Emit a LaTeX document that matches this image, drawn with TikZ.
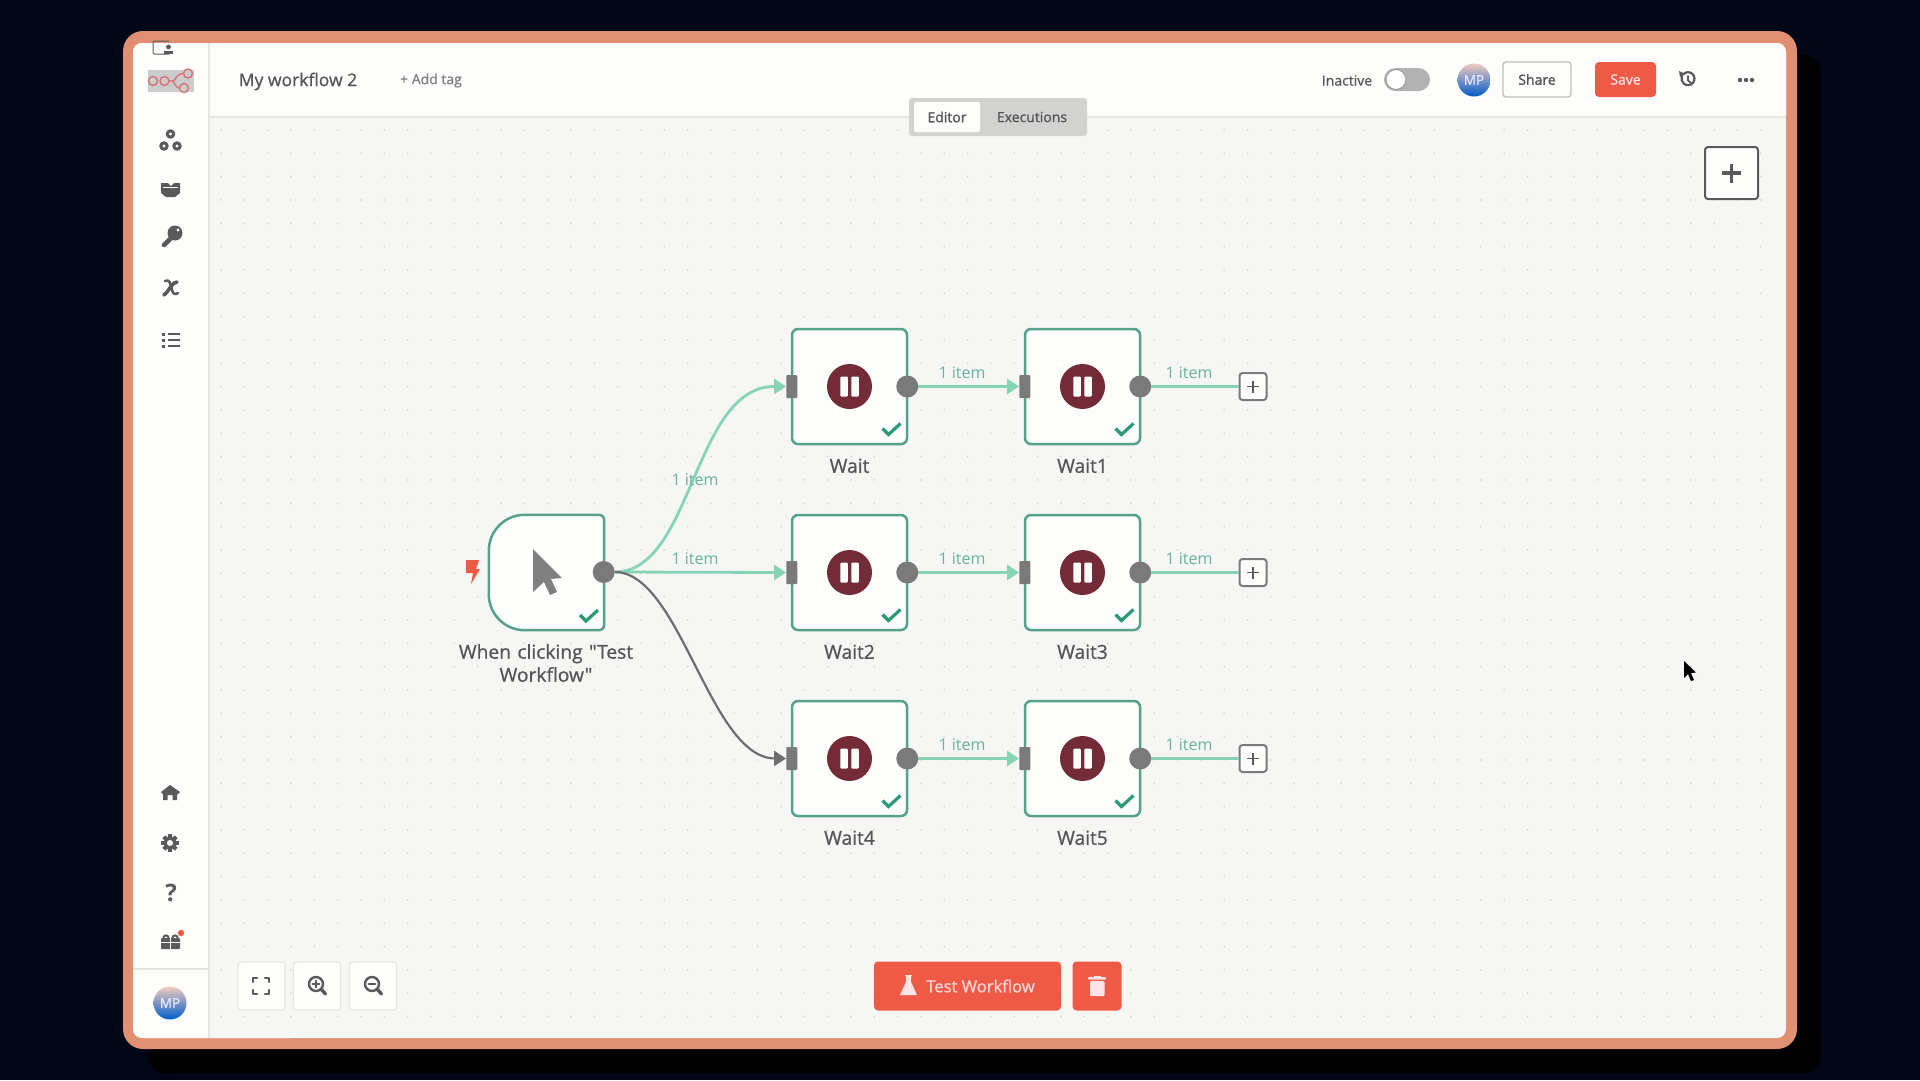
\documentclass[tikz,border=0pt]{standalone}
\usepackage{fontspec}
\setmainfont{Open Sans}
\newfontfamily\plainf{Open Sans}[FakeBold=0.8]
\newfontfamily\semif{Open Sans}[FakeBold=1.6]
\usetikzlibrary{arrows.meta,calc}
\definecolor{bgnavy}{HTML}{020617}
\definecolor{frameor}{HTML}{E08F70}
\definecolor{canvasc}{HTML}{F6F6F5}
\definecolor{panelc}{HTML}{FDFDFB}
\definecolor{linec}{HTML}{E6E6E4}
\definecolor{dotc}{HTML}{D6D6D4}
\definecolor{iconc}{HTML}{5A5A5A}
\definecolor{nodeedge}{HTML}{55A288}
\definecolor{wirec}{HTML}{86D4B8}
\definecolor{itemc}{HTML}{66B39B}
\definecolor{portc}{HTML}{7A7A7A}
\definecolor{wiregray}{HTML}{6E6E6E}
\definecolor{pausec}{HTML}{742B38}
\definecolor{checkc}{HTML}{2B9A78}
\definecolor{redc}{HTML}{EE5A46}
\definecolor{textc}{HTML}{555555}
\tikzset{
  waitbox/.style={draw=nodeedge,fill=panelc,line width=2.5pt,rounded corners=6pt,minimum width=115pt,minimum height=115pt,inner sep=0pt},
  ghostbox/.style={minimum width=115pt,minimum height=115pt,inner sep=0pt},
  pausedisc/.style={circle,fill=pausec,minimum size=45pt,inner sep=0pt},
  pausebar/.style={fill=panelc,rounded corners=1pt,minimum width=7.5pt,minimum height=20pt,inner sep=0pt},
  inport/.style={fill=portc,rounded corners=1pt,minimum width=11pt,minimum height=23pt,inner sep=0pt},
  outport/.style={circle,fill=portc,minimum size=22pt,inner sep=0pt},
  okmark/.style={draw=checkc,line width=3.2pt},
  lbl/.style={text=textc,font=\plainf\fontsize{19.2}{23}\selectfont,align=center,inner sep=0pt},
  itemlbl/.style={text=itemc,font=\fontsize{16}{20}\selectfont,inner sep=0pt},
  wire/.style={draw=wirec,line width=2.8pt},
  wirearrow/.style={wire,-{Triangle[length=12pt,width=15pt,fill=wirec]}},
  grayarrow/.style={draw=wiregray,line width=2.2pt,-{Triangle[length=12pt,width=15pt,fill=wiregray]}},
  plusbox/.style={draw=portc,fill=panelc,line width=2pt,rounded corners=3pt,minimum size=27pt,inner sep=0pt},
  sideicon/.style={draw=iconc,line width=2.6pt,line cap=round,line join=round},
  toolbtn/.style={draw=linec,fill=panelc,line width=1.2pt,rounded corners=3pt,minimum width=47pt,minimum height=48pt,inner sep=0pt},
  redbtn/.style={fill=redc,rounded corners=4pt,inner sep=0pt},
  avatar/.style={circle,top color=frameor!45!white,bottom color=blue!55!cyan!80!black,minimum size=33pt,inner sep=0pt,text=white!92!blue,font=\plainf\fontsize{13.5}{15}\selectfont},
  hdrtxt/.style={inner sep=0pt,text=#1,font=\fontsize{14}{17}\selectfont},
}
\newcommand{\waitblock}[4]{%
  \node[waitbox] (#1) at (#2,#3) {};
  \node[pausedisc] (#1disc) at (#1.center) {};
  \node[pausebar] at ([xshift=-5.5pt]#1.center) {};
  \node[pausebar] at ([xshift=5.5pt]#1.center) {};
  \node[inport] (#1in) at ([xshift=1pt]#1.west) {};
  \node[outport] (#1out) at ([xshift=-1pt]#1.east) {};
  \draw[okmark] ($(#1.center)+(33,42)$) -- ++(6,6) -- ++(12,-11);
  \node[lbl] (#1txt) at ($(#1.center)+(0,79.3)$) {#4};
}
\begin{document}
\begin{tikzpicture}[x=1pt,y=-1pt]
\useasboundingbox (0,0) rectangle (1920,1080);
\fill[bgnavy] (0,0) rectangle (1920,1080);
% shadow + frame
\fill[black,rounded corners=18pt] (148,55) rectangle (1821,1073);
\fill[frameor,rounded corners=20pt] (123,31) rectangle (1797,1049);
\fill[canvasc,rounded corners=9pt] (133,43) rectangle (1786,1038);
% panels
\fill[panelc,rounded corners=9pt] (133,43) rectangle (300,1038);
\fill[canvasc] (209,117) rectangle (300,1038);
\fill[panelc,rounded corners=9pt] (209,43) rectangle (1786,125);
\fill[panelc] (209,43) rectangle (300,117);
\fill[canvasc] (209,117) rectangle (1786,135);
\draw[linec,line width=1.5pt] (209,43) -- (209,1038);
\draw[linec,line width=1.5pt] (209,117) -- (1786,117);
\draw[linec,line width=1.5pt] (133,969) -- (209,969);
% dot grid
\fill[dotc] foreach \i in {0,...,66}{foreach \j in {0,...,38}{(221+23.33*\i,130+23.33*\j) circle (1pt)}};

% top-left little icon
\draw[iconc,line width=1pt,rounded corners=1pt] (169,54) -- (153,54) -- (153,41) -- (169,41);
\fill[iconc] (168.5,47) circle (2.4pt);
\fill[iconc] (163.5,54) rectangle (173,51);
% logo
\fill[black!20!white] (148,70) rectangle (194,92);
\begin{scope}[draw=pausec!50!red!60!white,line width=1.4pt]
\draw (153,81) circle (4.5pt);
\draw (164.5,81) circle (4.5pt);
\draw (188,73.5) circle (4.5pt);
\draw (184,88) circle (4.5pt);
\draw (169,81) -- (172,81) .. controls (177,81) and (175,73.5) .. (183.5,73.5);
\draw (172,81) .. controls (175,81) and (175,88) .. (179.5,88);
\end{scope}
% sidebar icons
\begin{scope}[sideicon,line width=3pt]
\draw (170.5,134) circle (3.2pt);
\draw (164,146) circle (3.2pt);
\draw (177,146) circle (3.2pt);
\end{scope}
\fill[iconc] (161,183) -- (168,183) -- (171,186) -- (174,183) -- (180,183) -- (180,193) -- (175,197) -- (166,197) -- (161,193) -- cycle;
\fill[panelc] (163,186.5) rectangle (178,187.6);
\fill[iconc] (175,233) circle (7.5pt);
\fill[panelc] (178,230) circle (1.6pt);
\draw[sideicon,line width=4.6pt] (171,238) -- (164,245);
\draw[sideicon,line width=2.6pt] (165,281) .. controls (170,279) and (170,283) .. (172,290) .. controls (173,294) and (175,295) .. (178,293);
\draw[sideicon,line width=3.6pt] (177,282) .. controls (172,282) and (170,290) .. (164,295);
\foreach \yy in {334,340,346}{
  \draw[iconc,line width=2.4pt] (168,\yy) -- (180,\yy);
  \fill[iconc] (161.5,\yy-1.5) rectangle (165,\yy+1.5);
}
\fill[iconc] (161,792) -- (170,785) -- (180,792) -- (178,794) -- (177,794) -- (177,800) -- (172.5,800) -- (172.5,795) -- (167.5,795) -- (167.5,800) -- (163,800) -- (163,794) -- cycle;
\foreach \a in {0,45,...,315}{\draw[iconc,line width=4pt] ($(170,843)+(\a:5.5)$) -- ($(170,843)+(\a:8.8)$);}
\draw[iconc,line width=3.4pt] (170,843) circle (5pt);
\node[inner sep=0pt,text=iconc,font=\fontsize{24}{26}\selectfont\bfseries] at (171,893) {?};
\fill[iconc,rounded corners=1pt] (161,938) rectangle (180,949);
\fill[panelc] (161,941.5) rectangle (180,942.6);
\fill[panelc] (169.8,938) rectangle (171.2,949);
\draw[iconc,line width=2pt] (166,938) circle (2.6pt);
\draw[iconc,line width=2pt] (175,938) circle (2.6pt);
\fill[redc] (181,933) circle (3.2pt);
\node[avatar] (avatarside) at (170,1003) {MP};

% header
\node[inner sep=0pt,text=textc,font=\plainf\fontsize{17.5}{20}\selectfont] (wfname) at (298,81.5) {My workflow 2};
\node[hdrtxt=black!50,font=\plainf\fontsize{14}{16}\selectfont] (addtag) at (431,80.5) {+ Add tag};
\fill[linec!80!gray,rounded corners=3pt] (909,98) rectangle (1087,136);
\fill[panelc,rounded corners=2pt] (914,102) rectangle (980,132);
\node[hdrtxt=textc,font=\semif\fontsize{14}{17}\selectfont] (edt) at (947,117) {Editor};
\node[hdrtxt=textc,font=\plainf\fontsize{14}{17}\selectfont] (exe) at (1032,117) {Executions};
\node[hdrtxt=textc,font=\plainf\fontsize{14}{17}\selectfont] (ina) at (1347,80.5) {Inactive};
\fill[black!30!white,rounded corners=11.5pt] (1384,68) rectangle (1430,91);
\draw[black!40!white,fill=white,line width=1pt] (1396,79.5) circle (10pt);
\node[avatar] (avatartop) at (1474,80) {MP};
\node[draw=black!25,fill=panelc,line width=1.4pt,rounded corners=3pt,minimum width=68pt,minimum height=35pt,inner sep=0pt,text=textc,font=\semif\fontsize{14}{17}\selectfont] (sharebtn) at (1537,79.5) {Share};
\node[redbtn,minimum width=61pt,minimum height=35pt,text=white!88!red,font=\semif\fontsize{14}{17}\selectfont] (savebtn) at (1625.5,79.5) {Save};
\draw[sideicon,line width=2.2pt] (1683,74.5) arc[start angle=140,end angle=-200,radius=6.5pt];
\draw[sideicon,line width=1.8pt] (1688,76) -- (1688,80.5) -- (1691,83);
\fill[iconc] (1679,71) -- (1685,74) -- (1680,77) -- cycle;
\foreach \dx in {1740,1746,1752}{\fill[iconc] (\dx,80) circle (2.2pt);}
\node[draw=black!65,fill=panelc,line width=2pt,rounded corners=3pt,minimum width=53pt,minimum height=52pt,inner sep=0pt] (addbtn) at (1731.5,173) {};
\draw[iconc,line width=3.6pt] ([xshift=-9.5pt]addbtn.center) -- ([xshift=9.5pt]addbtn.center);
\draw[iconc,line width=3.6pt] ([yshift=-9.5pt]addbtn.center) -- ([yshift=9.5pt]addbtn.center);

% trigger node
\node[ghostbox] (trig) at (546.5,572.5) {};
\draw[draw=nodeedge,fill=panelc,line width=2.5pt] (trig.north east) ++(-6,0) -- ($(trig.north west)+(36,0)$) .. controls ($(trig.north west)+(16,0)$) and ($(trig.north west)+(0,16)$) .. ($(trig.north west)+(0,36)$) -- ($(trig.south west)+(0,-36)$) .. controls ($(trig.south west)+(0,-16)$) and ($(trig.south west)+(16,0)$) .. ($(trig.south west)+(36,0)$) -- ($(trig.south east)+(-6,0)$) .. controls ($(trig.south east)+(-2,0)$) and ($(trig.south east)+(0,-2)$) .. ($(trig.south east)+(0,-6)$) -- ($(trig.north east)+(0,6)$) .. controls ($(trig.north east)+(0,2)$) and ($(trig.north east)+(-2,0)$) .. ($(trig.north east)+(-6,0)$) -- cycle;
\fill[black!50!white] (533,549) -- (562,578) -- (551,579) -- (557,592) -- (550,595) -- (544,582) -- (533,592) -- cycle;
\node[outport] (trigout) at ([xshift=-0.5pt,yshift=0.5pt]trig.east) {};
\draw[okmark] (580,615) -- ++(6,6) -- ++(12,-11);
\fill[redc] (466,560) -- (479,560) -- (476,569) -- (480,569) -- (471,584) -- (473,573) -- (466,573) -- cycle;
\node[lbl,text width=200pt] (trigtxt) at (546,663) {When clicking "Test\\Workflow"};

% wait nodes
\waitblock{w}{849.5}{386.5}{Wait}
\waitblock{wa}{1082.5}{386.5}{Wait1}
\waitblock{wb}{849.5}{572.5}{Wait2}
\waitblock{wc}{1082.5}{572.5}{Wait3}
\waitblock{wd}{849.5}{758.5}{Wait4}
\waitblock{we}{1082.5}{758.5}{Wait5}

% plus boxes
\foreach \nm/\yy in {pa/386.5,pb/572.5,pc/758.5}{
  \node[plusbox] (\nm) at (1253,\yy) {};
  \draw[iconc,line width=1.8pt] ([xshift=-6pt]\nm.center) -- ([xshift=6pt]\nm.center);
  \draw[iconc,line width=1.8pt] ([yshift=-6pt]\nm.center) -- ([yshift=6pt]\nm.center);
}

% connectors
\draw[wirearrow] (trigout.east) .. controls (693,572) and (693,386) .. (win.west);
\draw[wirearrow] (trigout.east) -- (wbin.west);
\draw[grayarrow] (trigout.east) .. controls (680,572) and (710,758) .. (wdin.west);
\draw[wirearrow] (wout.east) -- (wain.west);
\draw[wirearrow] (wbout.east) -- (wcin.west);
\draw[wirearrow] (wdout.east) -- (wein.west);
\draw[wire] (waout.east) -- (pa.west);
\draw[wire] (wcout.east) -- (pb.west);
\draw[wire] (weout.east) -- (pc.west);
% item labels
\node[itemlbl] (it0) at (695,480) {1 item};
\node[itemlbl] (it1) at (695,559) {1 item};
\node[itemlbl] (it2) at (962,373) {1 item};
\node[itemlbl] (it3) at (962,559) {1 item};
\node[itemlbl] (it4) at (962,745) {1 item};
\node[itemlbl] (it5) at (1189,373) {1 item};
\node[itemlbl] (it6) at (1189,559) {1 item};
\node[itemlbl] (it7) at (1189,745) {1 item};

% bottom-left tools
\node[toolbtn] (fitbtn) at (261.5,986) {};
\node[toolbtn] (inbtn) at (317,986) {};
\node[toolbtn] (outbtn) at (373,986) {};
\begin{scope}[sideicon,line width=2.4pt]
\draw (253,982) -- (253,978) -- (257,978);
\draw (265,978) -- (269,978) -- (269,982);
\draw (269,990) -- (269,994) -- (265,994);
\draw (257,994) -- (253,994) -- (253,990);
\draw (316,984) circle (7pt);
\draw[line width=3.4pt] (321.5,989.5) -- (325.5,994);
\draw (372,984) circle (7pt);
\draw[line width=3.4pt] (377.5,989.5) -- (381.5,994);
\draw[line width=1.8pt] (368.5,984) -- (375.5,984);
\draw[line width=1.8pt] (312.5,984) -- (319.5,984);
\draw[line width=1.8pt] (316,980.5) -- (316,987.5);
\end{scope}

% bottom buttons
\node[redbtn,minimum width=187pt,minimum height=49pt] (testbtn) at (967.5,986) {};
\node[inner sep=0pt,text=white!82!red,font=\semif\fontsize{16.6}{20}\selectfont] (testtxt) at (980.5,986) {Test Workflow};
\fill[white!90!red] (905,975) -- (912,975) -- (911,976.5) -- (911,982) -- (917,995) -- (900,995) -- (906,982) -- (906,976.5) -- cycle;
\node[redbtn,minimum width=49pt,minimum height=49pt] (trashbtn) at (1097,986) {};
\fill[white!90!red,rounded corners=1pt] (1090,981) rectangle (1104.5,996);
\fill[white!90!red,rounded corners=1pt] (1088,977) rectangle (1106,979.5);
\fill[white!90!red] (1094,975.5) rectangle (1100.5,978);

% mouse pointer
\fill[black] (1684,661) -- (1684,678) -- (1688,674) -- (1691,681) -- (1694,680) -- (1691,673) -- (1696,672.5) -- cycle;
\end{tikzpicture}
\end{document}
